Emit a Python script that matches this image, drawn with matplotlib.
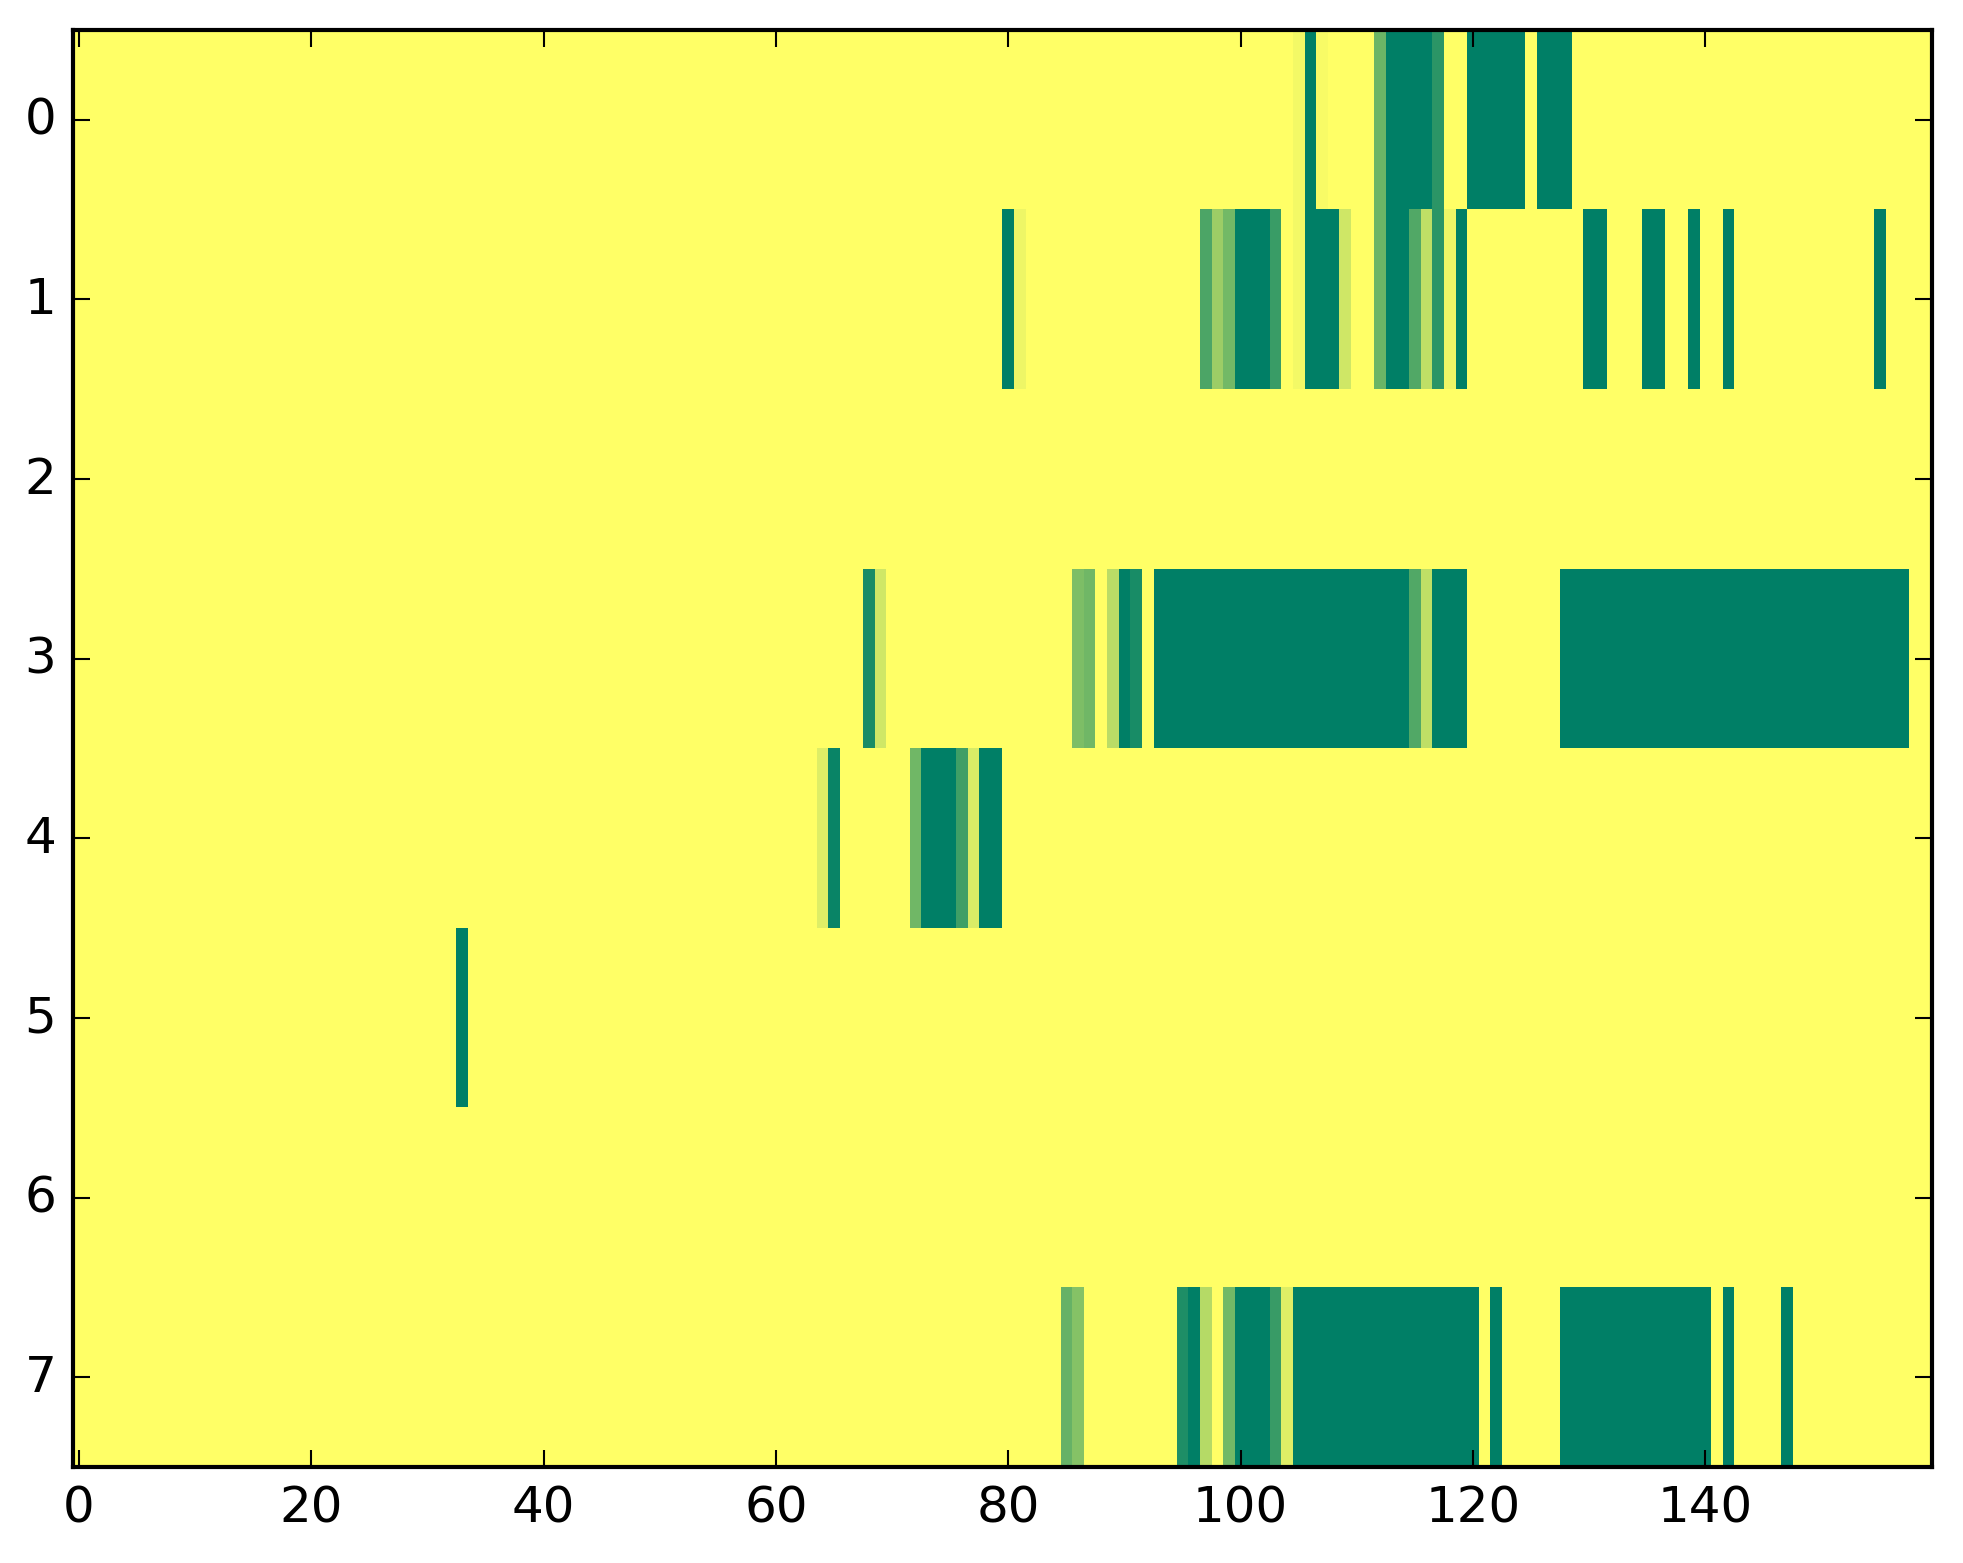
"""Mapa de atividade por linha (8 linhas x 160 colunas) com colormap summer_r."""
import numpy as np
import matplotlib
matplotlib.use("Agg")
import matplotlib.pyplot as plt

plt.style.use("classic")

N_LINHAS = 8
N_COLS = 160

# trechos: (coluna inicial, coluna final, valor) -- resto é 0
linha0 = [(105, 105, 0.05), (106, 106, 1.0), (107, 107, 0.03), (112, 112, 0.58),
          (113, 116, 1.0), (117, 117, 0.83), (120, 124, 1.0), (126, 128, 1.0)]
linha1 = [(80, 80, 1.0), (81, 81, 0.07), (97, 97, 0.70), (98, 98, 0.39), (99, 99, 0.55),
          (100, 102, 1.0), (103, 103, 0.77), (105, 105, 0.05), (106, 108, 1.0),
          (109, 109, 0.19), (112, 112, 0.58), (113, 114, 1.0), (115, 115, 0.68),
          (116, 116, 0.25), (117, 117, 0.83), (118, 118, 0.07), (119, 119, 1.0),
          (130, 131, 1.0), (135, 136, 1.0), (139, 139, 1.0), (142, 142, 1.0), (155, 155, 1.0)]
linha2 = []
linha3 = [(68, 68, 0.90), (69, 69, 0.19), (86, 86, 0.51), (87, 87, 0.56), (89, 89, 0.27),
          (90, 90, 1.0), (91, 91, 0.90), (93, 114, 1.0), (115, 115, 0.68), (116, 116, 0.25),
          (117, 119, 1.0), (128, 157, 1.0)]
linha4 = [(64, 64, 0.13), (65, 65, 0.96), (72, 72, 0.56), (73, 75, 1.0), (76, 76, 0.75),
          (77, 77, 0.15), (78, 79, 1.0)]
linha5 = [(33, 33, 1.0)]
linha6 = []
linha7 = [(85, 85, 0.60), (86, 86, 0.48), (95, 95, 0.88), (96, 96, 1.0), (97, 97, 0.29),
          (99, 99, 0.55), (100, 102, 1.0), (103, 103, 0.78), (104, 104, 0.13),
          (105, 120, 1.0), (122, 122, 1.0), (128, 140, 1.0), (142, 142, 1.0), (147, 147, 1.0)]

linhas = [linha0, linha1, linha2, linha3, linha4, linha5, linha6, linha7]

mat = np.zeros((N_LINHAS, N_COLS))
for i, trechos in enumerate(linhas):
    for a, b, v in trechos:
        mat[i, a:b + 1] = v

W, H, DPI = 1963, 1564, 300
fig = plt.figure(figsize=(W / DPI, H / DPI), dpi=DPI, facecolor="white")
ax = fig.add_axes([73 / W, 1 - 1468 / H, 1859 / W, 1437 / H])
ax.imshow(mat, cmap="summer_r", vmin=0, vmax=1, aspect="auto", interpolation="nearest")
ax.set_xticks(np.arange(0, 141, 20))
ax.set_yticks(np.arange(0, N_LINHAS))

fig.savefig("out.png", dpi=DPI, facecolor="white")
